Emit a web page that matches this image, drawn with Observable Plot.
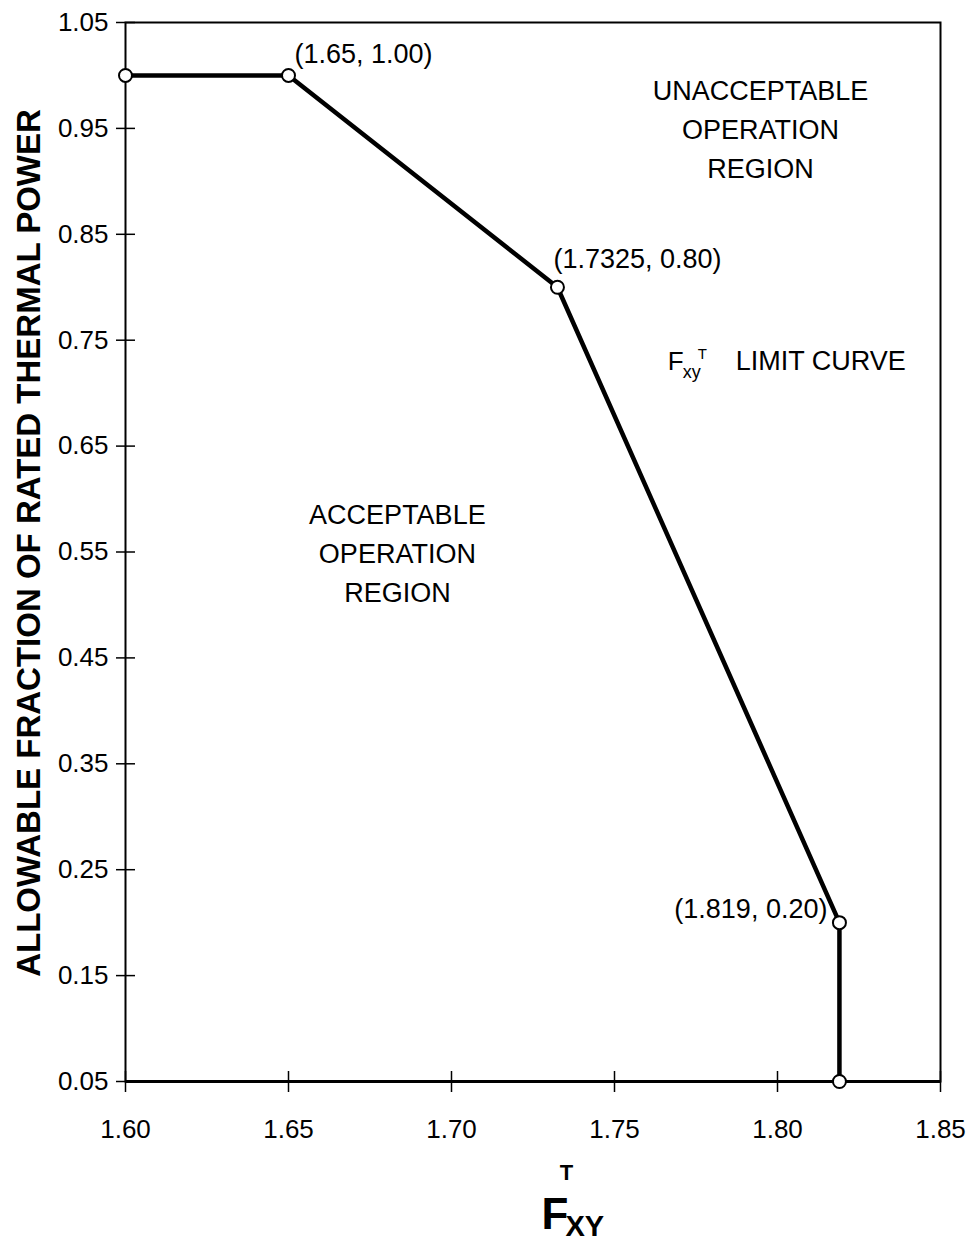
<!DOCTYPE html>
<html>
<head>
<meta charset="utf-8">
<script src="https://cdn.jsdelivr.net/npm/d3@7"></script>
<script src="https://cdn.jsdelivr.net/npm/@observablehq/plot@0.6"></script>
<style>
  html, body { margin: 0; padding: 0; background: #fff; }
  #chart svg { display: block; font-family: "Liberation Sans", Arial, sans-serif; }
</style>
</head>
<body>
<div id="chart"></div>
<script>
// Limit curve vertices
const curveX = [1.60, 1.65, 1.7325, 1.819, 1.819];
const curveY = [1.00, 1.00, 0.80, 0.20, 0.05];
// Point labels (for vertices 1..3)
const pointLabels = ["(1.65, 1.00)", "(1.7325, 0.80)", "(1.819, 0.20)"];
// Tick values
const xTicks = [1.60, 1.65, 1.70, 1.75, 1.80, 1.85];
const yTicks = [0.05, 0.15, 0.25, 0.35, 0.45, 0.55, 0.65, 0.75, 0.85, 0.95, 1.05];
// Region labels (text and data-space anchor)
const regionText = ["UNACCEPTABLE\nOPERATION\nREGION", "ACCEPTABLE\nOPERATION\nREGION"];
const regionX = [1.7948, 1.6834];
const regionY = [0.9518, 0.5514];
// Limit-curve label anchor (data space)
const curveLabelX = [1.7663];
const curveLabelY = [0.7214];
const yTitle = "ALLOWABLE FRACTION OF RATED THERMAL POWER";

const pts = curveX.map((x, i) => ({x, y: curveY[i]}));
const lab = pointLabels.map((t, i) => ({x: curveX[i + 1], y: curveY[i + 1], t}));
const regions = regionText.map((t, i) => ({x: regionX[i], y: regionY[i], t}));
const cl = [{x: curveLabelX[0], y: curveLabelY[0]}];

// detect narrow font
const cv = document.createElement("canvas").getContext("2d");
cv.font = "30px monospace"; const wMono = cv.measureText("1.60 ABC").width;
cv.font = "30px 'Liberation Sans Narrow', monospace"; const wNar = cv.measureText("1.60 ABC").width;
const hasNarrow = Math.abs(wMono - wNar) > 0.5;
const tickFamily = hasNarrow ? "'Liberation Sans Narrow', 'Liberation Sans', Arial, sans-serif" : "'Liberation Sans', Arial, sans-serif";
const tickFont = hasNarrow ? 30 : 26;

const fmt = d3.format(".2f");
const font = 27;

const chart = Plot.plot({
  width: 974,
  height: 1241,
  marginLeft: 125,
  marginRight: 34,
  marginTop: 22,
  marginBottom: 160,
  style: {fontFamily: "'Liberation Sans', Arial, sans-serif", color: "#000", background: "#fff"},
  x: {domain: [1.60, 1.85]},
  y: {domain: [0.05, 1.05]},
  marks: [
    Plot.frame({stroke: "#000", strokeWidth: 2}),
    Plot.ruleY([0.05], {stroke: "#000", strokeWidth: 3}),
    // outward ticks with labels
    Plot.axisX({ticks: xTicks, tickFormat: fmt, tickSize: 11, tickPadding: 27, fontSize: tickFont, fontFamily: tickFamily, stroke: "#000", strokeWidth: 1.5, label: null}),
    Plot.axisY({ticks: yTicks, tickFormat: fmt, tickSize: 9, tickPadding: 8, fontSize: tickFont, fontFamily: tickFamily, stroke: "#000", strokeWidth: 1.5, label: null}),
    // inward ticks
    Plot.axisX({ticks: xTicks, tickFormat: () => "", tickSize: -10, stroke: "#000", strokeWidth: 1.5, label: null}),
    Plot.axisY({ticks: yTicks, tickFormat: () => "", tickSize: -10, stroke: "#000", strokeWidth: 1.5, label: null}),
    // curve
    Plot.line(pts, {x: "x", y: "y", stroke: "#000", strokeWidth: 4.5}),
    Plot.dot(pts, {x: "x", y: "y", r: 6.5, fill: "#fff", stroke: "#000", strokeWidth: 2}),
    // point labels
    Plot.text([lab[0]], {x: "x", y: "y", text: "t", textAnchor: "start", lineAnchor: "bottom", dx: 6, dy: -12, fontSize: font}),
    Plot.text([lab[1]], {x: "x", y: "y", text: "t", textAnchor: "start", lineAnchor: "bottom", dx: -4, dy: -19, fontSize: font}),
    Plot.text([lab[2]], {x: "x", y: "y", text: "t", textAnchor: "end", lineAnchor: "bottom", dx: -12, dy: -5, fontSize: font}),
    // region labels
    Plot.text(regions, {x: "x", y: "y", text: "t", lineAnchor: "middle", lineHeight: 1.45, fontSize: 27}),
    // F_xy^T LIMIT CURVE
    Plot.text(cl, {x: "x", y: "y", text: () => "F", textAnchor: "start", lineAnchor: "bottom", fontSize: 26}),
    Plot.text(cl, {x: "x", y: "y", text: () => "xy", textAnchor: "start", lineAnchor: "bottom", dx: 15, dy: 8, fontSize: 18}),
    Plot.text(cl, {x: "x", y: "y", text: () => "T", textAnchor: "start", lineAnchor: "bottom", dx: 30, dy: -11, fontSize: 15}),
    Plot.text(cl, {x: "x", y: "y", text: () => "LIMIT CURVE", textAnchor: "start", lineAnchor: "bottom", dx: 68, fontSize: 27}),
    // axis titles
    Plot.text([yTitle], {frameAnchor: "left", textAnchor: "middle", lineAnchor: "middle", dx: -96, dy: -9, rotate: -90, fontSize: 33, fontWeight: "bold"}),
    Plot.text(["T"], {frameAnchor: "bottom", dx: 33.5, dy: 98, lineAnchor: "bottom", fontSize: 22, fontWeight: "bold"}),
    Plot.text(["F"], {frameAnchor: "bottom", dx: 35.5, dy: 147, textAnchor: "end", lineAnchor: "bottom", fontSize: 44, fontWeight: "bold"}),
    Plot.text(["XY"], {frameAnchor: "bottom", dx: 32.5, dy: 154, textAnchor: "start", lineAnchor: "bottom", fontSize: 29, fontWeight: "bold"})
  ]
});
document.getElementById("chart").appendChild(chart);
</script>
</body>
</html>
